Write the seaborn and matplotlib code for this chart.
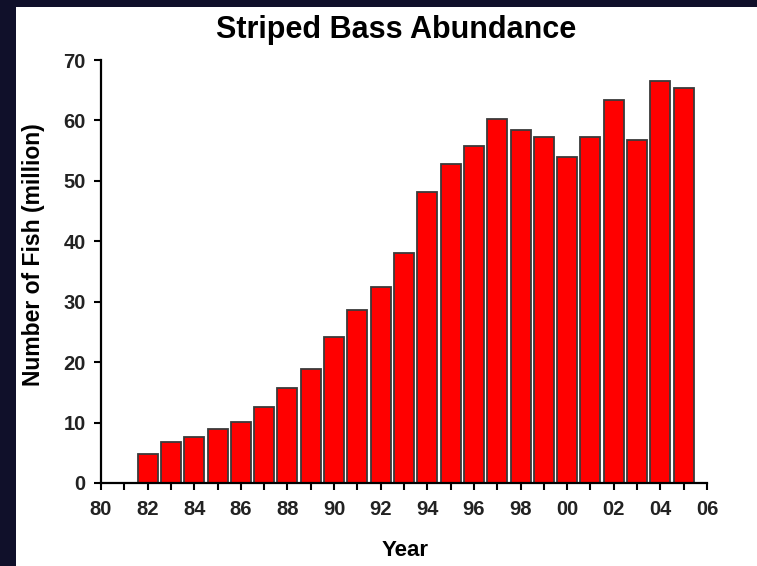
import pandas as pd
import seaborn as sns
from matplotlib import pyplot as plt
from matplotlib.patches import Rectangle

# abundance per year (million fish)
anos = list(range(1982, 2006))
peixes = [4.8, 6.8, 7.6, 9.0, 10.1, 12.5, 15.7, 18.9, 24.2, 28.6, 32.5, 38.1,
          48.1, 52.8, 55.7, 60.2, 58.4, 57.3, 54.0, 57.3, 63.4, 56.8, 66.6, 65.3]
rotulos_x = ['80', '82', '84', '86', '88', '90', '92', '94', '96', '98', '00', '02', '04', '06']

dados = pd.DataFrame({'ano': anos, 'peixes': peixes})

sns.set_style('ticks')
plt.rcParams['font.family'] = ['Liberation Sans', 'DejaVu Sans']
plt.rcParams['text.color'] = 'black'

fig = plt.figure(figsize=(7.57, 5.66), dpi=100)
fig.patch.set_facecolor('#10102a')
# white panel inside the dark frame
fig.add_artist(Rectangle((16 / 757, 0), 741 / 757, 559 / 566, transform=fig.transFigure,
                         facecolor='white', edgecolor='none', zorder=0))

ax = fig.add_axes([101 / 757, 83 / 566, 606 / 757, 423 / 566])
ax.set_facecolor('none')

sns.barplot(x='ano', y='peixes', data=dados, native_scale=True, width=0.86,
            color='#ff0000', saturation=1, edgecolor='#3a3a3a', linewidth=1.3, ax=ax)

ax.set_xlim(1980, 2006)
ax.set_ylim(0, 70)
ax.set_xticks(range(1980, 2007))
ax.set_xticklabels([rotulos_x[(a - 1980) // 2] if a % 2 == 0 else '' for a in range(1980, 2007)])
ax.set_yticks(range(0, 71, 10))
ax.tick_params(axis='both', direction='out', length=5, width=1.5, colors='black',
               labelsize=14.5)
ax.tick_params(axis='y', pad=6)
ax.tick_params(axis='x', pad=7)
for lbl in ax.get_xticklabels() + ax.get_yticklabels():
    lbl.set_fontweight('bold')
    lbl.set_color('#222222')
for s in ['left', 'bottom']:
    ax.spines[s].set_linewidth(1.6)
    ax.spines[s].set_color('black')
sns.despine(ax=ax)
ax.set_xlabel('')
ax.set_ylabel('')

fig.text(396 / 757, 1 - 30 / 566, 'Striped Bass Abundance', ha='center', va='center',
         fontsize=22, fontweight='bold')
fig.text(405 / 757, 1 - 551 / 566, 'Year', ha='center', va='center', fontsize=16, fontweight='bold')
fig.text(34 / 757, 1 - 255 / 566, 'Number of Fish (million)', ha='center', va='center',
         rotation=90, fontsize=16.5, fontweight='bold')

fig.savefig('out.png', dpi=100, facecolor=fig.get_facecolor())
